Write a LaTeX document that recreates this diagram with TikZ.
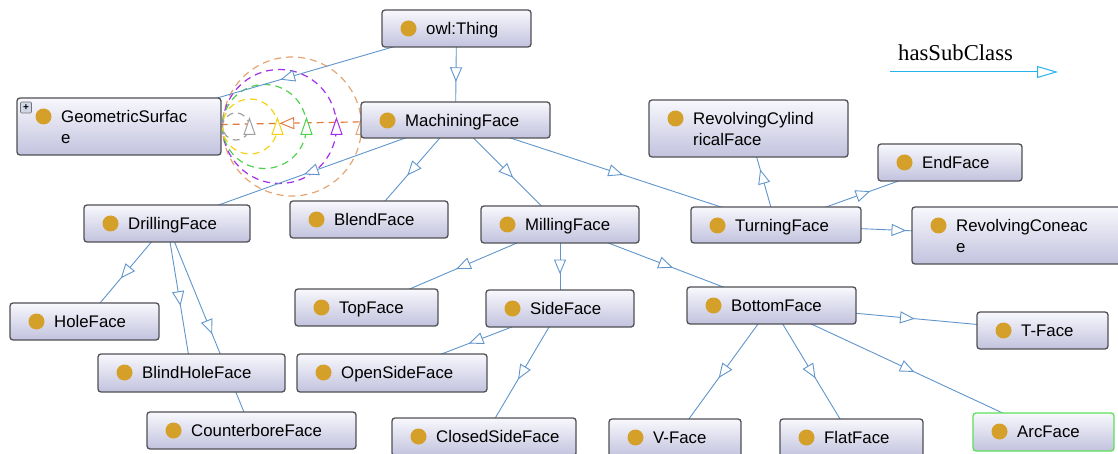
\documentclass[tikz,border=0pt]{standalone}
\usepackage{fontspec}
\setmainfont{Liberation Sans}
\newfontfamily\legendfont{Liberation Serif}
\usetikzlibrary{arrows.meta,decorations.markings,backgrounds}

\definecolor{edgeblue}{RGB}{96,150,204}
\definecolor{boxtop}{RGB}{248,248,253}
\definecolor{boxbot}{RGB}{194,194,222}
\definecolor{boxline}{RGB}{80,80,86}
\definecolor{dotgold}{RGB}{212,160,42}
\definecolor{selgreen}{RGB}{90,225,90}
\definecolor{legcyan}{RGB}{40,178,235}
\definecolor{ringorange}{RGB}{228,165,115}
\definecolor{ringpurple}{RGB}{165,45,235}
\definecolor{ringgreen}{RGB}{80,210,80}
\definecolor{ringyellow}{RGB}{245,210,20}
\definecolor{ringgray}{RGB}{160,160,160}
\definecolor{linkorange}{RGB}{225,120,60}
\definecolor{plusfill}{RGB}{208,216,232}

\tikzset{
  cbox/.style={draw=boxline, line width=1.3pt, rounded corners=3pt,
    top color=boxtop, bottom color=boxbot, inner sep=0pt, outer sep=0pt},
  cdot/.style={circle, fill=dotgold, minimum size=16pt, inner sep=0pt},
  ctext/.style={inner sep=0pt, anchor=base west,
    font=\fontsize{16.8}{21}\selectfont},
  mid arrow/.style={postaction={decorate, decoration={markings,
    mark=at position 0.5 with {\draw[#1, solid, fill=white, line width=0.9pt]
      (6.5pt,0pt) -- (-6.5pt,5.5pt) -- (-6.5pt,-5.5pt) -- cycle;}}}},
  subclass/.style={draw=edgeblue, line width=0.9pt, mid arrow=edgeblue},
  ringline/.style={line width=1.2pt, dash pattern=on 7pt off 5pt},
  uptri/.pic={\draw[solid, fill=white, line width=1pt]
      (0pt,8pt) -- (-5.5pt,-8pt) -- (5.5pt,-8pt) -- cycle;},
}

% class box: [options]{name}{x1}{y1}{x2}{y2}{label}
\newcommand\owlclass[7][]{%
  \node[cbox,#1, minimum width={(#5-#3)*1pt}, minimum height={(#6-#4)*1pt}]
    (#2) at ({(#3+#5)/2},{(#4+#6)/2}) {};
  \node[cdot] (#2-dot) at ({#3+26.5},{#4+18.5}) {};
  \node[ctext] (#2-txt) at ({#3+44},{#4+24.5})
    {\begin{tabular}[t]{@{}l@{}}#7\end{tabular}};
}

\begin{document}
\begin{tikzpicture}[x=1pt, y=-1pt]
\clip (0,0) rectangle (1118,454);

\owlclass{thing}{382}{10}{531}{47}{owl:Thing}
\owlclass{geo}{17}{98}{221}{155}{GeometricSurfac\\e}
\owlclass{mach}{361}{102}{550}{138}{MachiningFace}
\owlclass{drill}{84}{205}{250}{242}{DrillingFace}
\owlclass{blend}{290}{201}{448}{238}{BlendFace}
\owlclass{mill}{481}{206}{639}{243}{MillingFace}
\owlclass{turn}{691}{207}{861}{243}{TurningFace}
\owlclass{revcyl}{649}{100}{848}{157}{RevolvingCylind\\ricalFace}
\owlclass{endf}{878}{144}{1022}{181}{EndFace}
\owlclass{revcone}{912}{207}{1130}{264}{RevolvingConeac\\e}
\owlclass{hole}{10}{303}{159}{340}{HoleFace}
\owlclass{blind}{98}{354}{285}{392}{BlindHoleFace}
\owlclass{counter}{147}{412}{356}{449}{CounterboreFace}
\owlclass{topf}{295}{289}{438}{326}{TopFace}
\owlclass{side}{486}{290}{634}{327}{SideFace}
\owlclass{open}{297}{354}{487}{392}{OpenSideFace}
\owlclass{closed}{392}{418}{576}{456}{ClosedSideFace}
\owlclass{bottom}{687}{287}{856}{324}{BottomFace}
\owlclass{tface}{977}{312}{1108}{349}{T-Face}
\owlclass{vface}{609}{419}{741}{457}{V-Face}
\owlclass{flat}{780}{419}{923}{457}{FlatFace}
\owlclass[draw=selgreen]{arc}{973}{413}{1114}{451}{ArcFace}

% expand marker of the collapsed class
\node[draw=boxline!80, fill=plusfill, line width=0.7pt, rounded corners=1pt,
      minimum size=11pt, inner sep=0pt, font=\fontsize{10}{10}\selectfont\bfseries]
      (geo-plus) at (26,107.5) {+};

% legend
\coordinate (leg-from) at (890,72);
\coordinate (leg-to) at (1058,72);
\draw[legcyan, line width=1pt, -{Triangle[open, length=21pt, width=12pt]}]
  (leg-from) -- (leg-to);
\node[font=\legendfont\fontsize{22.7}{22.7}\selectfont, anchor=base west, inner sep=0pt]
  (leg-label) at (898,61) {hasSubClass};

\begin{pgfonlayer}{background}
  \fill[white] (0,0) rectangle (1118,454);

  % self-relation rings on GeometricSurface
  \coordinate (ring-tan) at ([xshift=1.5pt]geo.east);
  \foreach \r/\c in {69.5/ringorange, 57/ringpurple, 42/ringgreen,
                     27.5/ringyellow, 13.5/ringgray} {
    \draw[ringline, \c] ([xshift=\r pt]ring-tan) circle[radius=\r pt];
  }
  \draw[ringline, linkorange, mid arrow=linkorange] (mach.center) -- (geo.center);
  \foreach \r/\c in {69.5/ringorange, 57/ringpurple, 42/ringgreen,
                     27.5/ringyellow, 13.5/ringgray} {
    \pic[color=\c] at ([xshift=2*\r pt]ring-tan) {uptri};
  }

  % subclass hierarchy
  \draw[subclass] (thing.center) -- (geo.center);
  \draw[subclass] (thing.center) -- (mach.center);
  \draw[subclass] (mach.center) -- (drill.center);
  \draw[subclass] (mach.center) -- (blend.center);
  \draw[subclass] (mach.center) -- (mill.center);
  \draw[subclass] (mach.center) -- (turn.center);
  \draw[subclass] (turn.center) -- (revcyl.center);
  \draw[subclass] (turn.center) -- (endf.center);
  \draw[subclass] (turn.center) -- (revcone.center);
  \draw[subclass] (drill.center) -- (hole.center);
  \draw[subclass] (drill.center) -- (blind.center);
  \draw[subclass] (drill.center) -- (counter.center);
  \draw[subclass] (mill.center) -- (topf.center);
  \draw[subclass] (mill.center) -- (side.center);
  \draw[subclass] (mill.center) -- (bottom.center);
  \draw[subclass] (side.center) -- (open.center);
  \draw[subclass] (side.center) -- (closed.center);
  \draw[subclass] (bottom.center) -- (tface.center);
  \draw[subclass] (bottom.center) -- (vface.center);
  \draw[subclass] (bottom.center) -- (flat.center);
  \draw[subclass] (bottom.center) -- (arc.center);
\end{pgfonlayer}
\end{tikzpicture}
\end{document}
